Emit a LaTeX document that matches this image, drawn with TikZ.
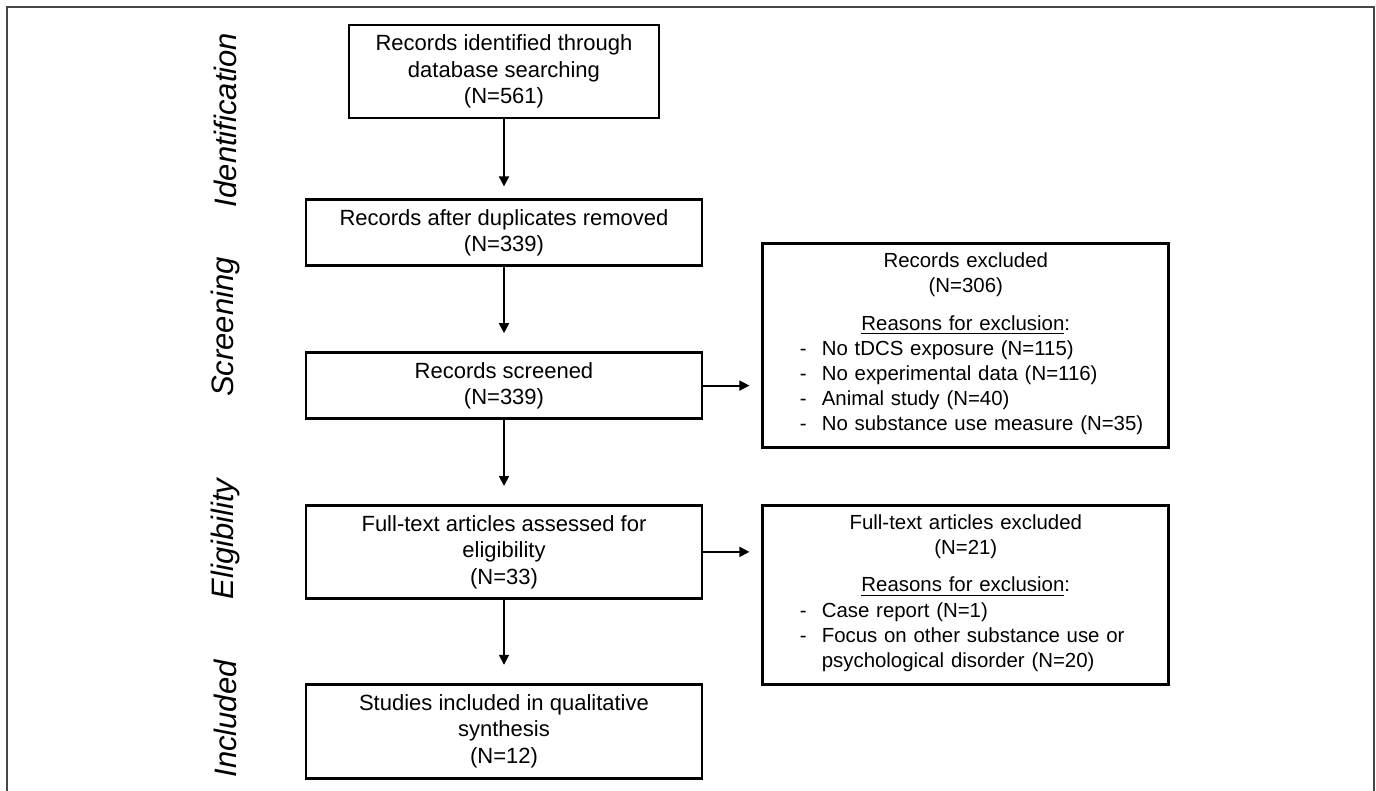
\documentclass[tikz,border=0pt]{standalone}
\usepackage{fontspec}
\setmainfont{Liberation Sans}
\usetikzlibrary{arrows.meta,positioning}

\tikzset{
  stagebox/.style={draw, line width=1.4pt, minimum width=198pt, minimum height=33pt,
    align=center, inner sep=0pt, font=\fontsize{11pt}{13.25pt}\selectfont},
  exbox/.style={draw, line width=1.4pt, minimum width=203pt, text width=190pt,
    align=center, inner sep=0pt, font=\fontsize{10.2pt}{12.6pt}\selectfont},
  phase/.style={rotate=90, font=\itshape\fontsize{15.5pt}{18pt}\selectfont},
  flow/.style={->, line width=0.9pt, shorten >=9pt}
}
\newcommand{\reasonlist}[1]{\begin{tabular}[t]{@{}p{11pt}@{}p{155pt}@{}}#1\end{tabular}}

\begin{document}
\begin{tikzpicture}[x=0.5pt, y=-0.5pt, >={Triangle[length=5pt,width=5pt]}, node distance=42pt]
    \useasboundingbox (0,0) rectangle (1376,791);
    % Frame
    \draw [line width=0.8pt, gray!55!black] (7,791) -- (7,7) -- (1374,7) -- (1374,791);

    % Stages {ident, dedup, screen, full, incl}
    \node [stagebox, minimum width=155pt, minimum height=46.5pt] (ident) at (504,71.5)
        {Records identified through\\database searching\\(N=561)};
    \node [stagebox] (dedup) [below=39.5pt of ident] {Records after duplicates removed\\(N=339)};
    \node [stagebox] (screen) [below=of dedup] {Records screened\\(N=339)};
    \node [stagebox, minimum height=46.5pt] (full) [below=of screen]
        {Full-text articles assessed for\\eligibility\\(N=33)};
    \node [stagebox, minimum height=47pt] (incl) [below=41.5pt of full]
        {Studies included in qualitative\\synthesis\\(N=12)};

    % Exclusions
    \node [exbox, minimum height=102pt, anchor=north west] (recex)
        at ([xshift=29pt, yshift=54.5pt]screen.north east)
        {Records excluded\\(N=306)\\[6pt]\underline{Reasons for exclusion}:\\
         \reasonlist{- & \mbox{No tDCS exposure (N=115)}\\
                     - & \mbox{No experimental data (N=116)}\\
                     - & \mbox{Animal study (N=40)}\\
                     - & \mbox{No substance use measure (N=35)}}};
    \node [exbox, minimum height=89.5pt, anchor=north west] (fullex)
        at ([xshift=29pt]full.north east)
        {Full-text articles excluded\\(N=21)\\[6pt]\underline{Reasons for exclusion}:\\
         \reasonlist{- & \mbox{Case report (N=1)}\\
                     - & \mbox{Focus on other substance use or}\\
                       & \mbox{psychological disorder (N=20)}}};

    % Phases
    \node [phase] (lident)  at (225,120) {Identification};
    \node [phase] (lscreen) at (225,327) {Screening};
    \node [phase] (lelig)   at (225,539) {Eligibility};
    \node [phase] (lincl)   at (225,719) {Included};

    % Paths
    \draw [flow, shorten >=6pt] (ident) -- (dedup);
    \draw [flow] (dedup) -- (screen);
    \draw [flow] (screen) -- (full);
    \draw [flow] (full) -- (incl);
    \draw [flow, shorten >=6pt] (screen.east) -- (screen.east -| recex.west);
    \draw [flow, shorten >=6pt] (full.east) -- (full.east -| fullex.west);
\end{tikzpicture}
\end{document}
